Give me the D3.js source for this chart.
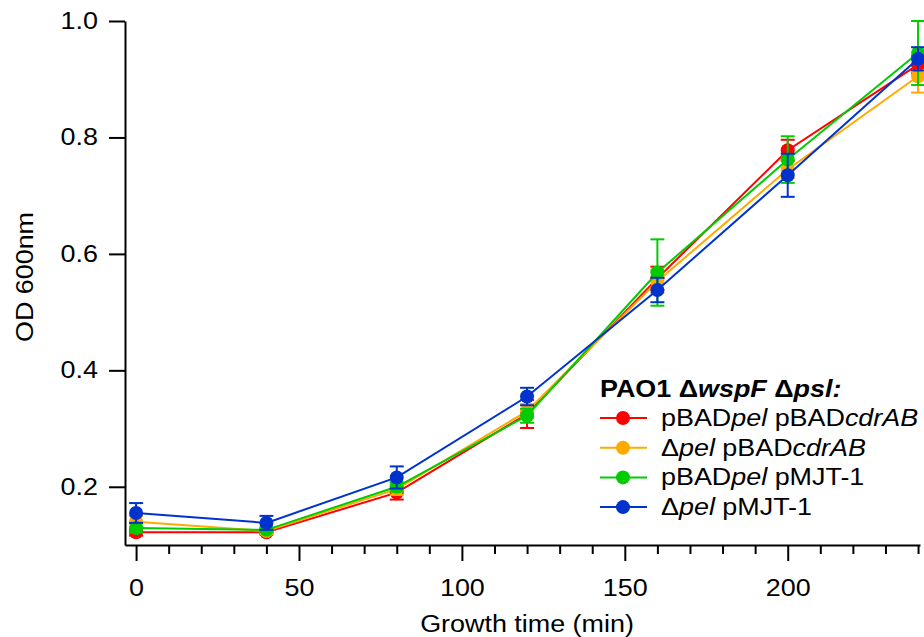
<!DOCTYPE html>
<html>
<head>
<meta charset="utf-8">
<script src="https://cdn.jsdelivr.net/npm/d3@7"></script>
<style>
  body { margin: 0; background: #fff; }
  text { font-family: "Liberation Sans", Arial, sans-serif; }
</style>
</head>
<body>
<script>
// growth data
var times = [0, 40, 80, 120, 160, 200, 240];
var redVals    = [0.122, 0.122, 0.190, 0.325, 0.558, 0.778, 0.925];
var orangeVals = [0.140, 0.124, 0.196, 0.330, 0.553, 0.745, 0.905];
var greenVals  = [0.129, 0.126, 0.200, 0.322, 0.568, 0.762, 0.945];
var blueVals   = [0.155, 0.138, 0.216, 0.355, 0.538, 0.735, 0.935];
var redErr    = [0.006, 0.004, 0.012, 0.024, 0.020, 0.018, 0.015];
var orangeErr = [0.010, 0.005, 0.010, 0.012, 0.020, 0.015, 0.028];
var greenErr  = [0.008, 0.004, 0.008, 0.012, 0.057, 0.040, 0.055];
var blueErr   = [0.017, 0.012, 0.019, 0.015, 0.021, 0.037, 0.020];
var xMajor = [0, 50, 100, 150, 200];
var xMinor = [10, 20, 30, 40, 60, 70, 80, 90, 110, 120, 130, 140, 160, 170, 180, 190, 210, 220, 230, 240];
var yTicks = [0.2, 0.4, 0.6, 0.8, 1.0];

var series = [
  {vals: redVals, err: redErr, color: "#ff0000"},
  {vals: orangeVals, err: orangeErr, color: "#ffaa00"},
  {vals: greenVals, err: greenErr, color: "#00cc00"},
  {vals: blueVals, err: blueErr, color: "#0033cc"}
];

var w = 924, h = 637;
var fs = "23px";      // font size
var stretch = 1.17;   // the original font is wider than Arial

var svg = d3.select("body").append("svg")
  .attr("width", w)
  .attr("height", h);

var x = d3.scaleLinear().domain([-3.4, 240.6]).range([125, 920]);
var y = d3.scaleLinear().domain([0.1, 1.0]).range([545, 21]);

// y axis
var yAx = svg.append("g")
  .attr("transform", "translate(125,0)")
  .call(d3.axisLeft(y).tickValues(yTicks).tickSize(16).tickSizeOuter(0)
    .tickFormat(d3.format(".1f")));
yAx.selectAll("text")
  .attr("x", 0)
  .attr("transform", "translate(-27,0) scale(" + stretch + ",1)")
  .attr("font-size", fs).attr("fill", "#000").attr("font-family", "Liberation Sans, Arial, sans-serif");

// x axis, major + minor ticks
var xAx = svg.append("g")
  .attr("transform", "translate(0,545)")
  .call(d3.axisBottom(x).tickValues(xMajor).tickSize(16).tickSizeOuter(0).tickPadding(19));
xAx.selectAll("text")
  .attr("transform", "scale(" + stretch + ",1)")
  .attr("font-size", fs).attr("fill", "#000").attr("font-family", "Liberation Sans, Arial, sans-serif");
var xMin = svg.append("g")
  .attr("transform", "translate(0,545)")
  .call(d3.axisBottom(x).tickValues(xMinor).tickSize(9).tickFormat(""));
xMin.select(".domain").remove();

svg.selectAll(".domain, .tick line").attr("stroke", "#000").attr("stroke-width", 2);

// axis titles
svg.append("text")
  .attr("transform", "translate(527,632) scale(" + stretch + ",1)")
  .attr("text-anchor", "middle")
  .attr("font-size", fs)
  .text("Growth time (min)");
svg.append("text")
  .attr("transform", "translate(33,277) rotate(-90) scale(" + stretch + ",1)")
  .attr("text-anchor", "middle")
  .attr("font-size", fs)
  .text("OD 600nm");

// lines, error bars, markers
var line = d3.line()
  .x(function(d, i) { return x(times[i]); })
  .y(function(d) { return y(d); });

series.forEach(function(s) {
  var g = svg.append("g");
  g.append("path")
    .attr("d", line(s.vals))
    .attr("fill", "none")
    .attr("stroke", s.color)
    .attr("stroke-width", 2);
  var eb = g.selectAll(".eb").data(s.vals).enter().append("g");
  eb.append("line")
    .attr("x1", function(d, i) { return x(times[i]); })
    .attr("x2", function(d, i) { return x(times[i]); })
    .attr("y1", function(d, i) { return y(d - s.err[i]); })
    .attr("y2", function(d, i) { return y(d + s.err[i]); })
    .attr("stroke", s.color).attr("stroke-width", 2);
  [-1, 1].forEach(function(sign) {
    eb.append("line")
      .attr("x1", function(d, i) { return x(times[i]) - 7; })
      .attr("x2", function(d, i) { return x(times[i]) + 7; })
      .attr("y1", function(d, i) { return y(d + sign * s.err[i]); })
      .attr("y2", function(d, i) { return y(d + sign * s.err[i]); })
      .attr("stroke", s.color).attr("stroke-width", 2);
  });
  g.selectAll("circle").data(s.vals).enter().append("circle")
    .attr("cx", function(d, i) { return x(times[i]); })
    .attr("cy", function(d) { return y(d); })
    .attr("r", 7)
    .attr("fill", s.color);
});

// legend
var lg = svg.append("g").attr("font-size", fs);
var title = lg.append("text")
  .attr("transform", "translate(600,397) scale(" + stretch + ",1)")
  .attr("font-weight", "bold");
title.append("tspan").text("PAO1 \u0394");
title.append("tspan").attr("font-style", "italic").text("wspF");
title.append("tspan").text(" \u0394");
title.append("tspan").attr("font-style", "italic").text("psl:");

var labels = [
  [["pBAD", false], ["pel", true], [" pBAD", false], ["cdrAB", true]],
  [["\u0394", false], ["pel", true], [" pBAD", false], ["cdrAB", true]],
  [["pBAD", false], ["pel", true], [" pMJT-1", false]],
  [["\u0394", false], ["pel", true], [" pMJT-1", false]]
];
series.forEach(function(s, i) {
  var cy = 418 + i * 29.7;
  lg.append("line")
    .attr("x1", 600).attr("x2", 647)
    .attr("y1", cy).attr("y2", cy)
    .attr("stroke", s.color).attr("stroke-width", 2);
  lg.append("circle").attr("cx", 623).attr("cy", cy).attr("r", 7).attr("fill", s.color);
  var t = lg.append("text")
    .attr("transform", "translate(661," + (cy + 8) + ") scale(" + stretch + ",1)");
  labels[i].forEach(function(p) {
    t.append("tspan").attr("font-style", p[1] ? "italic" : "normal").text(p[0]);
  });
});
</script>
</body>
</html>
